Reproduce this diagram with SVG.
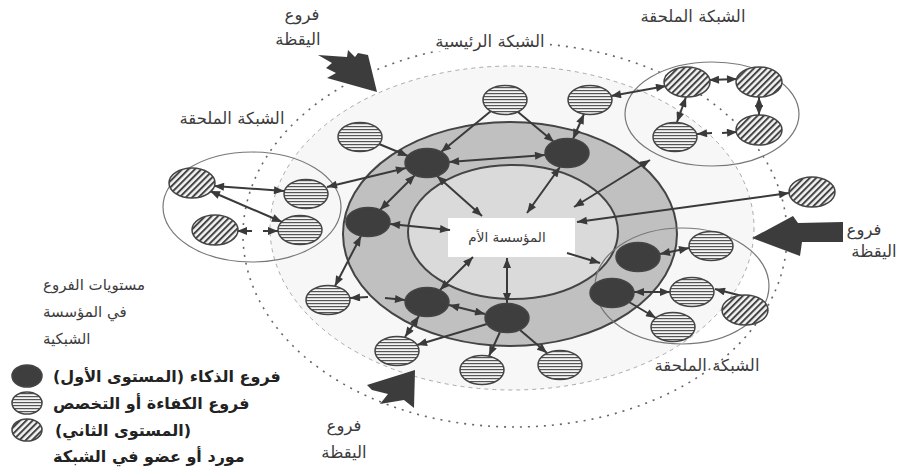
<svg xmlns="http://www.w3.org/2000/svg" width="903" height="471" viewBox="0 0 903 471">
<defs>
<style>
.lbl{font-family:"DejaVu Sans",sans-serif;fill:#3c3c3c;font-size:16.5px;}
.sm{font-family:"DejaVu Sans",sans-serif;fill:#3c3c3c;font-size:15px;}
.leg{font-family:"DejaVu Sans",sans-serif;fill:#222;font-size:16px;font-weight:bold;}
.c{stroke:#3a3a3a;stroke-width:2;fill:none;}
.n{stroke:#444;stroke-width:1.5;}
.dark{fill:#3e3e3e;}
.str{fill:url(#hs);}
.hat{fill:url(#hh);}
.clu{fill:none;stroke:#777;stroke-width:1.2;}
.blk{fill:#3c3c3c;}
</style>
<pattern id="hs" patternUnits="userSpaceOnUse" width="8" height="3"><rect width="8" height="3" fill="#f4f4f4"/><rect width="8" height="1.2" fill="#555"/></pattern>
<pattern id="hh" patternUnits="userSpaceOnUse" width="4.5" height="4.5" patternTransform="rotate(-45)"><rect width="4.5" height="4.5" fill="#f4f4f4"/><rect width="4.5" height="2" fill="#444"/></pattern>
<marker id="ah" viewBox="0 0 10 8" refX="10" refY="4" markerWidth="11" markerHeight="8" markerUnits="userSpaceOnUse" orient="auto-start-reverse"><path d="M0,0 L10,4 L0,8 z" fill="#3a3a3a"/></marker>
</defs>
<rect width="903" height="471" fill="#fff"/>

<g id="rings">
<ellipse cx="512" cy="228" rx="242" ry="162" fill="#f7f7f7" stroke="#aaa" stroke-width="1" stroke-dasharray="4 4"/>
<ellipse cx="515" cy="235" rx="272" ry="192" fill="none" stroke="#666" stroke-width="1.6" stroke-dasharray="2 6"/>
<ellipse cx="510" cy="234" rx="167" ry="112" fill="#c0c0c0" stroke="#444" stroke-width="2"/>
<ellipse cx="513" cy="232" rx="105" ry="67" fill="#dadada" stroke="#444" stroke-width="2"/>
<ellipse cx="252" cy="207" rx="89" ry="55" class="clu"/>
<ellipse cx="712" cy="114" rx="87" ry="52" class="clu"/>
<ellipse cx="682" cy="286" rx="87" ry="58" class="clu"/>
</g>

<g id="center">
<rect x="448" y="218" width="127" height="39" fill="#fff"/>
<text x="507" y="242" class="lbl" text-anchor="middle" direction="rtl" style="font-size:13.5px">المؤسسة الأم</text>
</g>

<g id="connectors" class="c">
<line x1="491" y1="111" x2="441" y2="152" marker-end="url(#ah)"/>
<line x1="518" y1="112" x2="554" y2="142" marker-end="url(#ah)"/>
<line x1="584" y1="114" x2="573" y2="139" marker-start="url(#ah)" marker-end="url(#ah)"/>
<line x1="611" y1="96" x2="666" y2="86" marker-start="url(#ah)" marker-end="url(#ah)"/>
<line x1="709" y1="80" x2="737" y2="79" marker-start="url(#ah)" marker-end="url(#ah)"/>
<line x1="686" y1="97" x2="677" y2="122" marker-start="url(#ah)" marker-end="url(#ah)"/>
<line x1="759" y1="97" x2="759" y2="115" marker-start="url(#ah)" marker-end="url(#ah)"/>
<line x1="697" y1="134" x2="712" y2="133" marker-start="url(#ah)"/>
<line x1="722" y1="133" x2="737" y2="132" marker-end="url(#ah)"/>
<line x1="214" y1="186" x2="284" y2="191" marker-start="url(#ah)" marker-end="url(#ah)"/>
<line x1="210" y1="191" x2="282" y2="222" marker-start="url(#ah)" marker-end="url(#ah)"/>
<line x1="237" y1="231" x2="252" y2="231" marker-start="url(#ah)"/>
<line x1="263" y1="231" x2="278" y2="231" marker-end="url(#ah)"/>
<line x1="406" y1="168" x2="327" y2="187" marker-start="url(#ah)" marker-end="url(#ah)"/>
<line x1="379" y1="144" x2="408" y2="156" marker-end="url(#ah)"/>
<line x1="449" y1="162" x2="545" y2="155" marker-start="url(#ah)" marker-end="url(#ah)"/>
<line x1="415" y1="175" x2="380" y2="210" marker-start="url(#ah)" marker-end="url(#ah)"/>
<line x1="437" y1="176" x2="482" y2="216" marker-start="url(#ah)" marker-end="url(#ah)"/>
<line x1="560" y1="167" x2="527" y2="213" marker-start="url(#ah)" marker-end="url(#ah)"/>
<line x1="650" y1="160" x2="574" y2="207" marker-start="url(#ah)" marker-end="url(#ah)"/>
<line x1="577" y1="222" x2="789" y2="193" marker-start="url(#ah)" marker-end="url(#ah)"/>
<line x1="567" y1="253" x2="600" y2="263" marker-end="url(#ah)"/>
<line x1="390" y1="224" x2="450" y2="230" marker-start="url(#ah)" marker-end="url(#ah)"/>
<line x1="361" y1="236" x2="335" y2="286" marker-start="url(#ah)" marker-end="url(#ah)"/>
<line x1="350" y1="298" x2="368" y2="297" marker-start="url(#ah)"/>
<line x1="385" y1="298" x2="405" y2="300" marker-end="url(#ah)"/>
<line x1="419" y1="316" x2="405" y2="337" marker-start="url(#ah)" marker-end="url(#ah)"/>
<line x1="440" y1="290" x2="473" y2="257" marker-start="url(#ah)" marker-end="url(#ah)"/>
<line x1="449" y1="305" x2="485" y2="314" marker-start="url(#ah)" marker-end="url(#ah)"/>
<line x1="507" y1="303" x2="507" y2="258" marker-start="url(#ah)" marker-end="url(#ah)"/>
<line x1="500" y1="332" x2="489" y2="356" marker-end="url(#ah)"/>
<line x1="520" y1="330" x2="547" y2="353" marker-end="url(#ah)"/>
<line x1="487" y1="324" x2="417" y2="345" marker-end="url(#ah)"/>
<line x1="660" y1="254" x2="689" y2="248" marker-start="url(#ah)" marker-end="url(#ah)"/>
<line x1="634" y1="292" x2="670" y2="292" marker-start="url(#ah)" marker-end="url(#ah)"/>
<line x1="629" y1="302" x2="656" y2="318" marker-end="url(#ah)"/>
<line x1="742" y1="296" x2="715" y2="289" marker-end="url(#ah)"/>
</g>

<g id="vigilance-arrows">
<polygon class="blk" points="318,55 347,57 348,50 355,57 358,53 368,55 377,92 327,78 336,73 326,68 332,63"/>
<polygon class="blk" points="752,238 793,216 798,223 843,222 843,242 802,242 800,256"/>
<polygon class="blk" points="367,385 415,370 414,408 404,400 380,404 388,394 372,390"/>
</g>

<g id="d1"><ellipse cx="427" cy="163" rx="22" ry="14.5" class="n dark"/></g>
<g id="d2"><ellipse cx="567" cy="153" rx="22" ry="14.5" class="n dark"/></g>
<g id="d3"><ellipse cx="368" cy="222" rx="22" ry="14.5" class="n dark"/></g>
<g id="d4"><ellipse cx="427" cy="302" rx="22" ry="14.5" class="n dark"/></g>
<g id="d5"><ellipse cx="507" cy="318" rx="22" ry="14.5" class="n dark"/></g>
<g id="d6"><ellipse cx="638" cy="257" rx="22" ry="14.5" class="n dark"/></g>
<g id="d7"><ellipse cx="612" cy="293" rx="22" ry="14.5" class="n dark"/></g>

<g id="s1"><ellipse cx="505" cy="100" rx="22" ry="14.5" class="n str"/></g>
<g id="s2"><ellipse cx="590" cy="100" rx="22" ry="14.5" class="n str"/></g>
<g id="s3"><ellipse cx="360" cy="137" rx="22" ry="14.5" class="n str"/></g>
<g id="s4"><ellipse cx="306" cy="194" rx="22" ry="14.5" class="n str"/></g>
<g id="s5"><ellipse cx="300" cy="230" rx="22" ry="14.5" class="n str"/></g>
<g id="s6"><ellipse cx="675" cy="137" rx="22" ry="14.5" class="n str"/></g>
<g id="s7"><ellipse cx="328" cy="300" rx="22" ry="14.5" class="n str"/></g>
<g id="s8"><ellipse cx="397" cy="351" rx="22" ry="14.5" class="n str"/></g>
<g id="s9"><ellipse cx="482" cy="370" rx="22" ry="14.5" class="n str"/></g>
<g id="s10"><ellipse cx="560" cy="365" rx="22" ry="14.5" class="n str"/></g>
<g id="s11"><ellipse cx="711" cy="246" rx="22" ry="14.5" class="n str"/></g>
<g id="s12"><ellipse cx="692" cy="292" rx="22" ry="14.5" class="n str"/></g>
<g id="s13"><ellipse cx="673" cy="327" rx="22" ry="14.5" class="n str"/></g>

<g id="h1"><ellipse cx="192" cy="183" rx="23" ry="15" class="n hat"/></g>
<g id="h2"><ellipse cx="215" cy="230" rx="23" ry="15" class="n hat"/></g>
<g id="h3"><ellipse cx="687" cy="82" rx="23" ry="15" class="n hat"/></g>
<g id="h4"><ellipse cx="759" cy="82" rx="23" ry="15" class="n hat"/></g>
<g id="h5"><ellipse cx="759" cy="130" rx="23" ry="15" class="n hat"/></g>
<g id="h6"><ellipse cx="812" cy="192" rx="23" ry="15" class="n hat"/></g>
<g id="h7"><ellipse cx="745" cy="310" rx="23" ry="15" class="n hat"/></g>

<g id="labels">
<text x="302" y="20" class="lbl" text-anchor="middle" direction="rtl">فروع</text>
<text x="298" y="45" class="lbl" text-anchor="middle" direction="rtl">اليقظة</text>
<rect x="432" y="33" width="118" height="18" fill="#fff"/>
<text x="490" y="47" class="lbl" text-anchor="middle" direction="rtl">الشبكة الرئيسية</text>
<text x="693" y="22" class="lbl" text-anchor="middle" direction="rtl">الشبكة الملحقة</text>
<text x="232" y="124" class="lbl" text-anchor="middle" direction="rtl">الشبكة الملحقة</text>
<text x="707" y="371" class="lbl" text-anchor="middle" direction="rtl">الشبكة الملحقة</text>
<text x="864" y="235" class="lbl" text-anchor="middle" direction="rtl">فروع</text>
<text x="874" y="257" class="lbl" text-anchor="middle" direction="rtl">اليقظة</text>
<text x="344" y="431" class="lbl" text-anchor="middle" direction="rtl">فروع</text>
<text x="344" y="458" class="lbl" text-anchor="middle" direction="rtl">اليقظة</text>
</g>

<g id="legend">
<text x="43" y="290" class="sm" text-anchor="end" direction="rtl">مستويات الفروع</text>
<text x="43" y="317" class="sm" text-anchor="end" direction="rtl">في المؤسسة</text>
<text x="43" y="344" class="sm" text-anchor="end" direction="rtl">الشبكية</text>
<ellipse cx="27" cy="376" rx="15" ry="11" class="n dark"/>
<ellipse cx="27" cy="403" rx="15" ry="11" class="n str"/>
<ellipse cx="27" cy="430" rx="15" ry="11" class="n hat"/>
<text x="53" y="382" class="leg" text-anchor="end" direction="rtl">فروع الذكاء (المستوى الأول)</text>
<text x="53" y="409" class="leg" text-anchor="end" direction="rtl">فروع الكفاءة أو التخصص</text>
<text x="55" y="436" class="leg" text-anchor="end" direction="rtl">(المستوى الثاني)</text>
<text x="53" y="462" class="leg" text-anchor="end" direction="rtl">مورد أو عضو في الشبكة</text>
</g>
</svg>
